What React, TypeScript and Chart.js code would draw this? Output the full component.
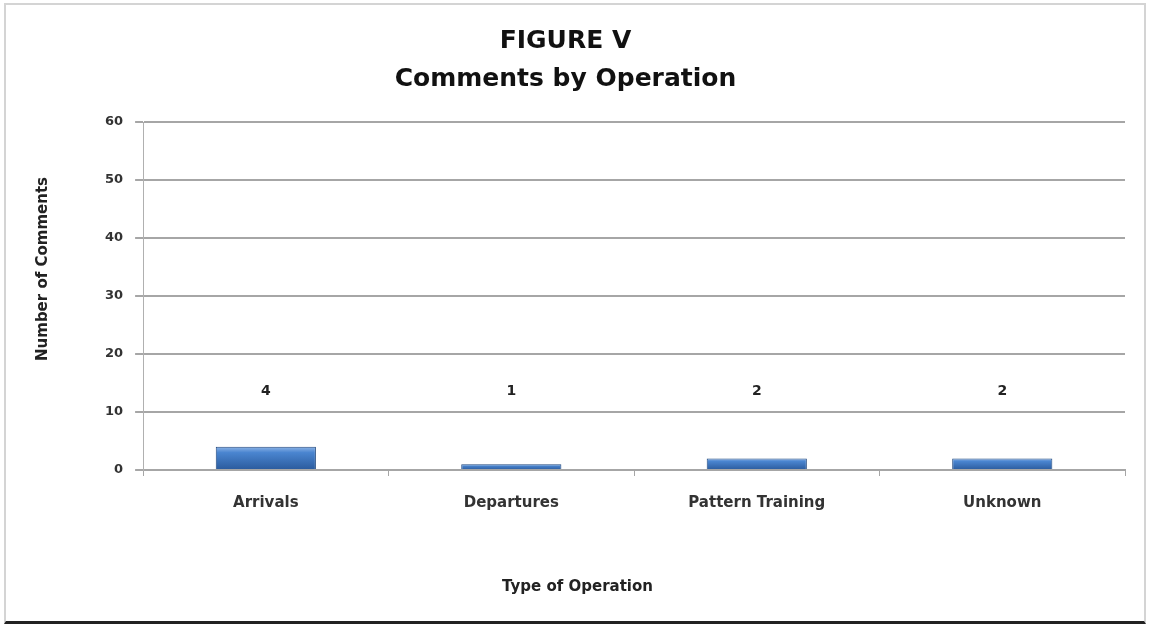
import React, { useEffect, useRef } from "react";
import { Chart, registerables } from "chart.js";

Chart.register(...registerables);

const categories = ["Arrivals", "Departures", "Pattern Training", "Unknown"];
const counts = [4, 1, 2, 2];
const yTicks = [0, 10, 20, 30, 40, 50, 60];
const titleLines = ["FIGURE V", "Comments by Operation"];
const yAxisTitle = "Number of Comments";
const xAxisTitle = "Type of Operation";
const labelLevel = 13.5;

const FONT = "'DejaVu Sans', sans-serif";

const customText = {
  id: "customText",
  afterDatasetsDraw(chart: any) {
    const { ctx } = chart;
    const meta = chart.getDatasetMeta(0);
    const yScale = chart.scales.y;
    const xScale = chart.scales.x;
    const ca = chart.chartArea;
    ctx.save();
    ctx.fillStyle = "#222";
    ctx.textAlign = "center";
    ctx.textBaseline = "middle";
    // value labels
    ctx.font = `bold 14px ${FONT}`;
    meta.data.forEach((bar: any, i: number) => {
      ctx.fillText(String(counts[i]), bar.x, yScale.getPixelForValue(labelLevel));
    });
    // main title
    ctx.fillStyle = "#111";
    ctx.font = `bold 25px ${FONT}`;
    const tb = chart.titleBlock;
    const tTop = tb ? tb.top + 22 : 22;
    titleLines.forEach((line, i) => {
      ctx.fillText(line, chart.width / 2 - 10, tTop + 19 + i * 38);
    });
    // x axis title
    ctx.fillStyle = "#222";
    ctx.font = `bold 15px ${FONT}`;
    ctx.fillText(xAxisTitle, chart.width / 2 + 2, xScale.bottom - 9);
    // y axis title
    ctx.translate(yScale.left + 9, (ca.top + ca.bottom) / 2 - 27);
    ctx.rotate(-Math.PI / 2);
    ctx.fillText(yAxisTitle, 0, 0);
    ctx.restore();
  },
};

export default function App() {
  const ref = useRef<HTMLCanvasElement>(null);
  useEffect(() => {
    if (!ref.current) return;
    const chart = new Chart(ref.current, {
      type: "bar",
      data: {
        labels: categories,
        datasets: [
          {
            data: counts,
            backgroundColor: (c: any) => {
              const ch = c.chart;
              const ys = ch.scales?.y;
              if (!ys || !c.parsed) return "#3d74bd";
              const top = ys.getPixelForValue(c.parsed.y);
              const bot = ys.getPixelForValue(0);
              if (!isFinite(top) || !isFinite(bot) || top === bot) return "#3d74bd";
              const g = ch.ctx.createLinearGradient(0, top, 0, bot);
              g.addColorStop(0, "#8db4e6");
              g.addColorStop(0.25, "#4a85d0");
              g.addColorStop(1, "#2a5a9c");
              return g;
            },
            borderColor: "#1f477e",
            borderWidth: 1,
            categoryPercentage: 0.8,
            barPercentage: 0.51,
          },
        ],
      },
      options: {
        animation: false,
        responsive: false,
        maintainAspectRatio: false,
        layout: { padding: { left: 34, right: 26, top: 0, bottom: 33 } },
        plugins: {
          legend: { display: false },
          tooltip: { enabled: false },
          title: {
            display: true,
            text: titleLines,
            color: "rgba(0,0,0,0)",
            font: { family: FONT, size: 25, weight: "bold", lineHeight: 1.52 },
            padding: { top: 22, bottom: 24 },
          },
        },
        scales: {
          x: {
            grid: {
              display: true,
              drawOnChartArea: false,
              drawTicks: true,
              tickLength: 6,
              color: "#a6a6a6",
              lineWidth: 1,
            },
            border: { display: true, color: "#a6a6a6", width: 2 },
            ticks: {
              color: "#333",
              font: { family: FONT, size: 15, weight: "bold" },
              padding: 18,
            },
            title: {
              display: true,
              text: xAxisTitle,
              color: "rgba(0,0,0,0)",
              font: { family: FONT, size: 15, weight: "bold" },
              padding: { top: 48, bottom: 0 },
            },
          },
          y: {
            min: 0,
            max: 60,
            afterBuildTicks: (axis: any) => {
              axis.ticks = yTicks.map((v) => ({ value: v }));
            },
            grid: {
              color: "#a6a6a6",
              lineWidth: 2,
              tickLength: 8,
            },
            border: { display: true, color: "#b0b0b0", width: 1 },
            ticks: {
              color: "#333",
              font: { family: FONT, size: 13, weight: "bold" },
              padding: 12,
            },
            title: {
              display: true,
              text: yAxisTitle,
              color: "rgba(0,0,0,0)",
              font: { family: FONT, size: 15, weight: "bold" },
              padding: { top: 0, bottom: 41 },
            },
          },
        },
      },
      plugins: [customText],
    });
    return () => chart.destroy();
  }, []);

  return (
    <div
      style={{
        position: "absolute",
        left: 0,
        top: 0,
        width: 1151,
        height: 629,
        background: "#fff",
      }}
    >
      <div
        style={{
          position: "absolute",
          left: 4,
          top: 3,
          width: 1142,
          height: 621,
          border: "2px solid #d4d4d4",
          borderBottom: "3px solid #222",
          boxSizing: "border-box",
        }}
      />
      <canvas
        ref={ref}
        width={1151}
        height={629}
        style={{ position: "absolute", left: 0, top: 0 }}
      />
    </div>
  );
}
